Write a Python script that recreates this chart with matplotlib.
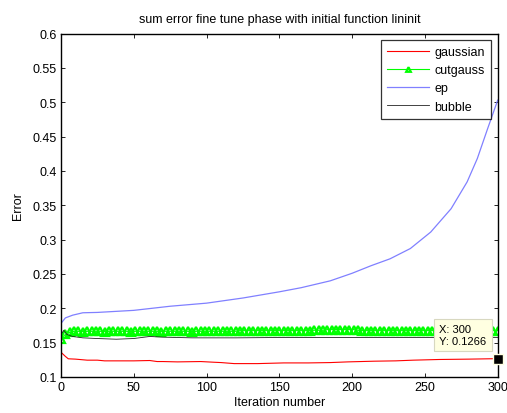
import matplotlib
matplotlib.use("Agg")
import matplotlib.pyplot as plt
import numpy as np

plt.rcParams['font.family'] = ['Liberation Sans', 'DejaVu Sans']

# data
it_gauss = [0, 3, 5, 10, 18, 25, 30, 38, 50, 61, 66, 70, 80, 96, 105, 110, 119, 135,
            153, 170, 185, 197, 215, 230, 242, 260, 280, 297, 300]
gaussian = [0.136, 0.130, 0.1265, 0.126, 0.1245, 0.1245, 0.1235, 0.1235, 0.1235,
            0.124, 0.1225, 0.1225, 0.122, 0.1225, 0.1215, 0.121, 0.1195, 0.1195,
            0.1205, 0.1205, 0.121, 0.122, 0.123, 0.1235, 0.1245, 0.1255, 0.126,
            0.1266, 0.1266]

# cutgauss sampled every 3 iterations (0..300)
it_cut = list(range(0, 301, 3))
cutgauss = [0.156, 0.162, 0.165,
            0.1665, 0.1665, 0.166, 0.1665, 0.1665, 0.1665, 0.1665, 0.166, 0.1665, 0.1665,
            0.1665, 0.1665, 0.1665, 0.166, 0.1665, 0.1665, 0.1665, 0.1665, 0.1665, 0.1665,
            0.166, 0.1665, 0.1665, 0.1665, 0.1665, 0.1665, 0.1665, 0.166, 0.1665, 0.1665,
            0.1665, 0.1665, 0.1665, 0.1665, 0.1665, 0.1665, 0.1665, 0.1665,
            0.1675, 0.1675, 0.1675, 0.1675, 0.1675, 0.1675, 0.1675, 0.1675, 0.1675, 0.1675,
            0.1675, 0.1675, 0.1675, 0.1675, 0.1675, 0.1675, 0.1675, 0.168, 0.168, 0.168,
            0.169, 0.169, 0.169, 0.169, 0.169, 0.169, 0.169,
            0.168,
            0.1675, 0.1675, 0.1675, 0.1675, 0.1675, 0.1675, 0.1675, 0.1675, 0.1675, 0.1675,
            0.1675, 0.1675, 0.1675, 0.1675, 0.1675, 0.1675, 0.1675, 0.1675, 0.1675, 0.1675,
            0.1675, 0.1675, 0.1675, 0.1675, 0.1675, 0.1675, 0.1675, 0.1675, 0.1675, 0.1675,
            0.1675, 0.1675]

it_ep = [0, 3, 8, 15, 25, 50, 75, 100, 125, 150, 165, 185, 200, 213, 226, 240,
         254, 268, 279, 286, 293, 300]
ep = [0.178, 0.186, 0.190, 0.1935, 0.194, 0.197, 0.203, 0.2075, 0.215, 0.224, 0.230,
      0.240, 0.251, 0.262, 0.272, 0.287, 0.311, 0.345, 0.384, 0.418, 0.461, 0.503]

it_bub = [0, 2, 4, 8, 15, 25, 38, 50, 61, 70, 90, 120, 150, 200, 250, 300]
bubble = [0.162, 0.168, 0.162, 0.159, 0.157, 0.156, 0.155, 0.156, 0.159, 0.158,
          0.157, 0.157, 0.1575, 0.1575, 0.1575, 0.1575]

tip_x, tip_y = 300, 0.1266

fig = plt.figure(figsize=(5.07, 4.14), dpi=100)
ax = fig.add_axes([61 / 507, 1 - 378 / 414, 436.7 / 507, 343.5 / 414])

ax.plot(it_gauss, gaussian, color='red', lw=0.8, label='gaussian')
ax.plot(it_cut, cutgauss, color='#00ff00', lw=0.8, marker='^', ms=5.5, mfc='none',
        mew=1.6, label='cutgauss')
ax.plot(it_ep, ep, color='#8080ff', lw=0.9, label='ep')
ax.plot(it_bub, bubble, color='#222222', lw=0.6, label='bubble')

# data tip
ax.plot([tip_x], [tip_y], 's', color='black', ms=7, mec='#ffffe1', mew=1.0,
        clip_on=False, zorder=5)
ax.annotate(f'X: {tip_x}\nY: {tip_y}', xy=(tip_x, tip_y), xytext=(-25, 17),
            textcoords='offset points', ha='center', va='center', fontsize=8,
            multialignment='left', zorder=6,
            bbox=dict(boxstyle='square,pad=0.45', fc='#ffffe1', ec='#d8d8c0', lw=0.8))

ax.set_xlim(0, 300)
ax.set_ylim(0.1, 0.6)
ax.set_xticks(np.arange(0, 301, 50))
ax.set_yticks(np.arange(0.1, 0.601, 0.05))
ax.set_yticklabels(['0.1', '0.15', '0.2', '0.25', '0.3', '0.35', '0.4', '0.45',
                    '0.5', '0.55', '0.6'])
ax.tick_params(direction='in', length=3, width=0.6, top=True, right=True,
               labelsize=9, pad=3)
for s in ax.spines.values():
    s.set_linewidth(1.0)

ax.set_title('sum error fine tune phase with initial function lininit', fontsize=9, pad=8)
ax.set_xlabel('Iteration number', fontsize=9, labelpad=2)
ax.set_ylabel('Error', fontsize=9, labelpad=6)

leg = ax.legend(loc='upper right', bbox_to_anchor=(0.985, 0.982), borderaxespad=0,
                fontsize=9, frameon=True, fancybox=False, handlelength=3.4,
                handletextpad=0.4, labelspacing=0.5, borderpad=0.5, markerscale=0.6)
leg.get_frame().set_edgecolor('black')
leg.get_frame().set_linewidth(0.9)

fig.savefig('out.png', dpi=100, facecolor='white')
